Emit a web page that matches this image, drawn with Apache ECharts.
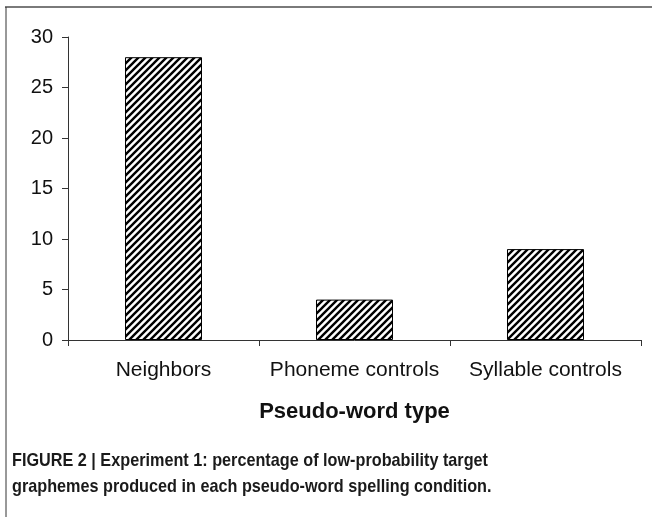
<!DOCTYPE html>
<html><head><meta charset="utf-8">
<script src="https://cdn.jsdelivr.net/npm/echarts@6/dist/echarts.min.js"></script>
<style>html,body{margin:0;padding:0;background:#fff}#c{width:652px;height:517px}</style>
</head><body><div id="c"></div>
<script>
const categories = ['Neighbors', 'Phoneme controls', 'Syllable controls'];
const values = [28, 4, 9];
const yTicks = [0, 5, 10, 15, 20, 25, 30];
const xTitle = 'Pseudo-word type';
const captionLines = ['FIGURE 2 | Experiment 1: percentage of low-probability target', 'graphemes produced in each pseudo-word spelling condition.'];

function hatch() {
  const s = 7;
  const c = document.createElement('canvas');
  c.width = s; c.height = s;
  const g = c.getContext('2d');
  g.fillStyle = '#fff'; g.fillRect(0, 0, s, s);
  g.strokeStyle = '#000'; g.lineWidth = 2.4;
  g.beginPath();
  g.moveTo(-1, s + 1); g.lineTo(s + 1, -1);
  g.moveTo(-1, 1); g.lineTo(1, -1);
  g.moveTo(s - 1, s + 1); g.lineTo(s + 1, s - 1);
  g.stroke();
  return c;
}

const capFont = 'bold 19px "Liberation Sans", Arial, sans-serif';
const mc = document.createElement('canvas').getContext('2d');
mc.font = capFont;
const capScale = 476 / mc.measureText(captionLines[0]).width;

const FF = '"Liberation Sans", Arial, sans-serif';
const chart = echarts.init(document.getElementById('c'), null, {renderer: 'canvas'});
chart.setOption({
  animation: false,
  backgroundColor: '#fff',
  textStyle: {fontFamily: FF},
  grid: {left: 68, right: 11, top: 37, bottom: 177},
  xAxis: {
    type: 'category', data: categories,
    name: xTitle, nameLocation: 'middle', nameGap: 61,
    nameTextStyle: {fontSize: 22, fontWeight: 'bold', color: '#111', fontFamily: FF},
    axisLine: {lineStyle: {color: '#333', width: 1}},
    axisTick: {show: true, interval: 0, length: 6, alignWithLabel: false, lineStyle: {color: '#333'}},
    axisLabel: {interval: 0, hideOverlap: false, fontSize: 21, color: '#111', margin: 20, fontFamily: FF}
  },
  yAxis: {
    type: 'value', min: yTicks[0], max: yTicks[yTicks.length - 1], interval: 5,
    splitLine: {show: false},
    axisLine: {show: true, lineStyle: {color: '#333', width: 1}},
    axisTick: {show: true, length: 6, lineStyle: {color: '#333'}},
    axisLabel: {fontSize: 20, color: '#111', margin: 15, fontFamily: FF}
  },
  series: [{
    type: 'bar', data: values, barWidth: 77,
    itemStyle: {color: {image: hatch(), repeat: 'repeat'}, borderColor: '#000', borderWidth: 1}
  }],
  graphic: [
    {type: 'line', shape: {x1: 5, y1: 7, x2: 652, y2: 7}, style: {stroke: '#7a7a7a', lineWidth: 2}},
    {type: 'line', shape: {x1: 6, y1: 7, x2: 6, y2: 517}, style: {stroke: '#333', lineWidth: 1}},
    {type: 'text', x: 12, y: 448, scaleX: capScale, style: {text: captionLines.join('\n'), font: capFont, lineHeight: 26, fill: '#1a1a1a'}}
  ]
});
</script></body></html>
